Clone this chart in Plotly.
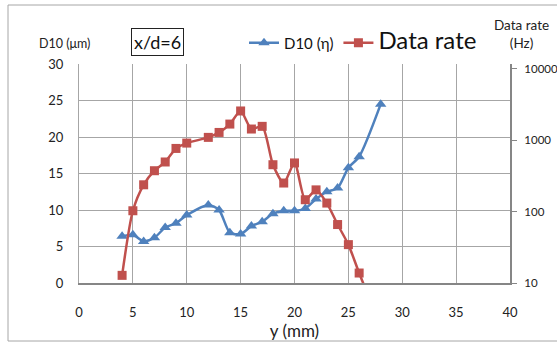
import plotly.graph_objects as go

# Data
y_pos_d10 = [4, 5, 6, 7, 8, 9, 10, 12, 13, 14, 15, 16, 17, 18, 19, 20, 21, 22, 23, 24, 25, 26, 28]
d10_um = [6.4, 6.6, 5.7, 6.2, 7.6, 8.2, 9.3, 10.7, 10.0, 6.9, 6.7, 7.8, 8.4, 9.5, 9.9, 9.9, 10.2, 11.5, 12.5, 13.0, 15.8, 17.3, 24.5]

y_pos_rate = [4, 5, 6, 7, 8, 9, 10, 12, 13, 14, 15, 16, 17, 18, 19, 20, 21, 22, 23, 24, 25, 26, 27]
data_rate_hz = [12.8, 103, 238, 375, 497, 770, 915, 1100, 1290, 1690, 2580, 1440, 1570, 455, 252, 482, 147, 202, 132, 66, 34.5, 13.8, 5.8]

x_ticks = [0, 5, 10, 15, 20, 25, 30, 35, 40]
left_ticks = [0, 5, 10, 15, 20, 25, 30]
right_ticks = [10, 100, 1000, 10000]
right_tick_text = ["10", "100", "1000", "10000"]

BLUE = "#4F81BD"
RED = "#C0504D"
GRID = "#a6a6a6"
AXIS = "#868686"
FONT = "Lato"

fig = go.Figure()
fig.add_trace(go.Scatter(
    x=y_pos_d10, y=d10_um, name="D10 (η)",
    mode="lines+markers",
    line=dict(color=BLUE, width=2.5, shape="spline", smoothing=0.7),
    marker=dict(symbol="triangle-up", size=10, color=BLUE),
    yaxis="y",
))
fig.add_trace(go.Scatter(
    x=y_pos_rate, y=data_rate_hz,
    name="<span style='font-size:24px'>Data rate</span>",
    mode="lines+markers",
    line=dict(color=RED, width=2.5, shape="spline", smoothing=0.7),
    marker=dict(symbol="square", size=9, color=RED),
    yaxis="y2",
))

W, H = 557, 344
L, R, T, B = 79, 47, 64, 61
pw = W - L - R
ph = H - T - B

def px_x(px):
    return (px - L) / pw

def px_y(py):
    return (H - B - py) / ph

fig.update_layout(
    width=W, height=H,
    margin=dict(l=L, r=R, t=T, b=B, autoexpand=False),
    paper_bgcolor="white", plot_bgcolor="white",
    font=dict(family=FONT, color="#222222", size=13),
    showlegend=True,
    legend=dict(
        orientation="h", x=px_x(244), y=px_y(43), xanchor="left", yanchor="middle",
        font=dict(size=15, family=FONT, color="#111111"),
        bgcolor="rgba(0,0,0,0)", itemwidth=30, tracegroupgap=0,
    ),
    xaxis=dict(
        range=[0, 40], tickvals=x_ticks, showgrid=True, gridcolor=GRID, gridwidth=1,
        showline=True, linecolor=AXIS, linewidth=2, zeroline=False, automargin=False,
        ticks="outside", ticklen=16, tickcolor="rgba(0,0,0,0)",
        tickfont=dict(size=13, family=FONT),
        title=dict(text="y (mm)", font=dict(size=17, family=FONT), standoff=0),
    ),
    yaxis=dict(
        range=[0, 30], tickvals=left_ticks, showgrid=True, gridcolor=GRID, gridwidth=1,
        showline=True, linecolor=GRID, linewidth=1, zeroline=False, automargin=False,
        ticks="outside", ticklen=12, tickcolor="rgba(0,0,0,0)",
        tickfont=dict(size=13, family=FONT),
    ),
    yaxis2=dict(
        type="log", range=[1.0, 4.07], overlaying="y", side="right",
        tickvals=right_ticks, ticktext=right_tick_text, showgrid=False,
        showline=True, linecolor=AXIS, linewidth=2, zeroline=False, automargin=False,
        ticks="outside", ticklen=5, tickcolor=AXIS, ticklabelstandoff=5,
        tickfont=dict(size=11.5, family=FONT),
    ),
)

# Chart border
fig.add_shape(type="rect", xref="paper", yref="paper",
              x0=px_x(8), x1=px_x(565), y0=px_y(341), y1=px_y(5),
              line=dict(color="#a6a6a6", width=1), layer="below")

# Annotations
fig.add_annotation(text="D10 (μm)", xref="paper", yref="paper", x=px_x(64), y=px_y(43),
                   xanchor="center", yanchor="middle",
                   showarrow=False, font=dict(size=12.5, family=FONT, color="#222222"))
fig.add_annotation(text="x/d=6", xref="paper", yref="paper", x=px_x(157), y=px_y(41.5),
                   xanchor="center", yanchor="middle",
                   showarrow=False, font=dict(size=18, family=FONT, color="#111111"),
                   bordercolor="#222222", borderwidth=1, borderpad=2, bgcolor="white")
fig.add_annotation(text="Data rate<br>(Hz)", xref="paper", yref="paper", x=px_x(521), y=px_y(34),
                   xanchor="center", yanchor="middle",
                   showarrow=False, font=dict(size=13.5, family=FONT, color="#222222"))

fig.write_html("out.html", config={"displayModeBar": False},
               post_script="document.body.style.margin='0px';")
